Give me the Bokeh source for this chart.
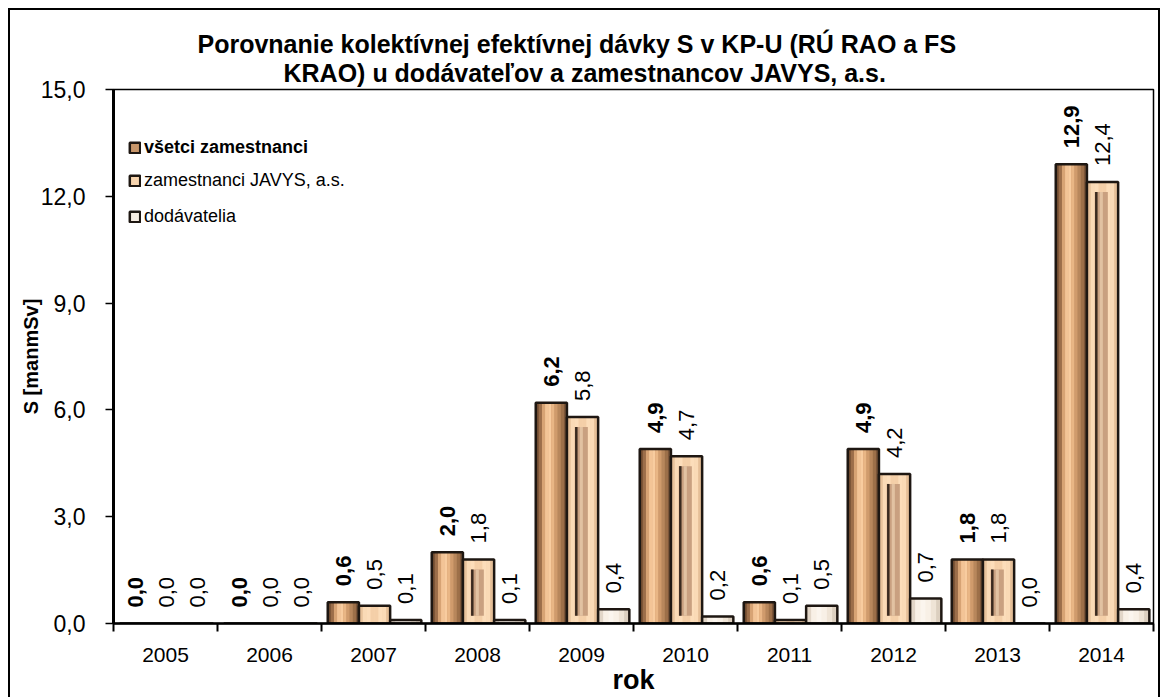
import numpy as np
from bokeh.plotting import figure
from bokeh.models import (ColumnDataSource, Range1d, FixedTicker, CustomJSTickFormatter,
                          Legend, LegendItem, Title)
from bokeh.core.properties import value
from bokeh.embed import file_html
from bokeh.resources import INLINE

# ---------------- data ----------------
years = ["2005", "2006", "2007", "2008", "2009", "2010", "2011", "2012", "2013", "2014"]
vsetci = [0.0, 0.0, 0.6, 2.0, 6.2, 4.9, 0.6, 4.9, 1.8, 12.9]
javys = [0.0, 0.0, 0.5, 1.8, 5.8, 4.7, 0.1, 4.2, 1.8, 12.4]
dodav = [0.0, 0.0, 0.1, 0.1, 0.4, 0.2, 0.5, 0.7, 0.0, 0.4]
series_names = ["všetci zamestnanci", "zamestnanci JAVYS, a.s.", "dodávatelia"]
title_lines = ["Porovnanie kolektívnej  efektívnej  dávky  S v KP-U  (RÚ RAO a FS",
               "KRAO) u dodávateľov  a zamestnancov  JAVYS, a.s."]
y_ticks = [0, 3, 6, 9, 12, 15]
x_title = "rok"
y_title = "S [manmSv]"

FONT = "Liberation Sans"

p = figure(frame_width=1040, frame_height=534,
           x_range=Range1d(0, len(years)), y_range=Range1d(0, 15),
           output_backend="svg", toolbar_location=None,
           min_border_left=103, min_border_right=5, min_border_top=79, min_border_bottom=30)
p.styles = {"margin-left": "8px", "margin-top": "8px",
            "border-top": "2px solid black", "border-left": "2px solid black",
            "border-right": "2px solid black"}
p.background_fill_color = "white"
p.border_fill_color = "white"
p.outline_line_color = "black"
p.outline_line_width = 1.5
p.xgrid.visible = False
p.ygrid.visible = False

# title: two lines (second line added first = closer to the frame), left-aligned with offsets
t2 = Title(text=title_lines[1], align="left", offset=170, standoff=5,
           text_font=FONT, text_font_size="25px", text_font_style="bold", text_color="black")
t1 = Title(text=title_lines[0], align="left", offset=84, standoff=-6,
           text_font=FONT, text_font_size="25px", text_font_style="bold", text_color="black")
p.add_layout(t2, "above")
p.add_layout(t1, "above")

# ---------------- axes ----------------
n = len(years)
xa = p.xaxis[0]
xa.ticker = FixedTicker(ticks=[i + 0.5 for i in range(n)], minor_ticks=list(range(n + 1)))
xa.formatter = CustomJSTickFormatter(args=dict(years=years),
                                     code="return years[Math.floor(tick)];")
xa.major_tick_out = 0
xa.major_tick_in = 0
xa.minor_tick_out = 8
xa.minor_tick_in = 0
xa.minor_tick_line_width = 2
xa.minor_tick_line_color = "black"
xa.axis_line_width = 2.5
xa.axis_line_color = "black"
xa.major_label_text_font = FONT
xa.major_label_text_font_size = "21px"
xa.major_label_text_color = "black"
xa.major_label_standoff = 16
xa.axis_label = x_title
xa.axis_label_text_font = FONT
xa.axis_label_text_font_size = "27px"
xa.axis_label_text_font_style = "bold"
xa.axis_label_text_color = "black"
xa.axis_label_standoff = 0

ya = p.yaxis[0]
ya.ticker = FixedTicker(ticks=y_ticks, minor_ticks=[])
ya.formatter = CustomJSTickFormatter(code="return tick.toFixed(1).replace('.', ',');")
ya.major_tick_out = 8
ya.major_tick_in = 0
ya.major_tick_line_width = 1.5
ya.major_tick_line_color = "black"
ya.minor_tick_out = 0
ya.minor_tick_in = 0
ya.axis_line_width = 3
ya.axis_line_color = "black"
ya.major_label_text_font = FONT
ya.major_label_text_font_size = "23px"
ya.major_label_text_color = "black"
ya.major_label_standoff = 20
ya.axis_label = y_title
ya.axis_label_text_font = FONT
ya.axis_label_text_font_size = "20px"
ya.axis_label_text_font_style = "bold"
ya.axis_label_text_color = "black"
ya.axis_label_standoff = -4

# ---------------- bars ----------------
bw = 0.30
xc = np.arange(n) + 0.51
x_all = xc - bw
x_jav = xc
x_dod = xc + bw
v_all = np.array(vsetci)
v_jav = np.array(javys)
v_dod = np.array(dodav)


def strips(xs, vals, colors):
    k = len(colors)
    sw = bw / k
    xx, tt, cc = [], [], []
    for j, c in enumerate(colors):
        off = -bw / 2 + sw * (j + 0.5)
        xx.extend(list(xs + off))
        tt.extend(list(vals))
        cc.extend([c] * len(xs))
    return ColumnDataSource(dict(x=xx, top=tt, color=cc)), sw


# všetci zamestnanci: copper gradient
base_all = p.vbar(x=x_all, top=v_all, width=bw, fill_color="#C8966A", line_color=None)
src, sw = strips(x_all, v_all, ["#6E4A2F", "#9C6E4A", "#D7A374", "#F3C496", "#F8CC9F",
                                "#E9B685", "#D09B6C", "#B8875C", "#9D7049", "#7C5639"])
p.vbar(x="x", top="top", width=sw * 1.02, fill_color="color", line_color=None, source=src)
out_all = p.vbar(x=x_all, top=v_all, width=bw, fill_alpha=0, line_color="#1E1712", line_width=2.5)

# zamestnanci JAVYS: light peach with inner panel
base_jav = p.vbar(x=x_jav, top=v_jav, width=bw, fill_color="#F7D4AE", line_color=None)
src, sw = strips(x_jav, v_jav, ["#E8C29B", "#FADAB6", "#FCDDBA", "#F4CFA8", "#F4CFA8",
                                "#FCDDBA", "#FADAB6", "#E5BF98"])
p.vbar(x="x", top="top", width=sw * 1.02, fill_color="color", line_color=None, source=src)
inner_top = np.where(v_jav > 0.7, v_jav - 0.28, 0.0)
inner_bot = np.where(v_jav > 0.7, 0.22, 0.0)
p.vbar(x=x_jav - bw * 0.04, top=inner_top, bottom=inner_bot, width=bw * 0.42,
       fill_color="#C9A080", line_color=None)
p.vbar(x=x_jav - bw * 0.20, top=inner_top, bottom=inner_bot, width=bw * 0.08,
       fill_color="#3A2A1F", line_color=None)
p.vbar(x=x_jav - bw * 0.04, top=inner_top, bottom=inner_bot, width=bw * 0.10,
       fill_color="#E2C2A2", line_color=None)
out_jav = p.vbar(x=x_jav, top=v_jav, width=bw, fill_alpha=0, line_color="#1E1712", line_width=2.5)

# dodávatelia: cream
base_dod = p.vbar(x=x_dod, top=v_dod, width=bw, fill_color="#F6EDE2", line_color=None)
src, sw = strips(x_dod, v_dod, ["#E2D6C8", "#F8F0E6", "#FBF5EE", "#F8F0E6", "#EFE4D6", "#DCCFBF"])
p.vbar(x="x", top="top", width=sw * 1.02, fill_color="color", line_color=None, source=src)
out_dod = p.vbar(x=x_dod, top=v_dod, width=bw, fill_alpha=0, line_color="#1E1712", line_width=2.5)

# ---------------- value labels ----------------
def fmt(vals):
    return [f"{v:.1f}".replace(".", ",") for v in vals]


for xs, vals, style in [(x_all, v_all, "bold"), (x_jav, v_jav, "normal"), (x_dod, v_dod, "normal")]:
    s = ColumnDataSource(dict(x=xs, y=vals, t=fmt(vals)))
    p.text(x="x", y="y", text="t", source=s, angle=np.pi / 2,
           text_align="left", text_baseline="middle", y_offset=-16,
           text_font=value(FONT), text_font_size="22px", text_font_style=style,
           text_color="black")

# ---------------- legends ----------------
common = dict(padding=0, margin=0, border_line_alpha=0, background_fill_alpha=0,
              glyph_width=13, glyph_height=13, label_standoff=3, label_height=20,
              label_text_font=FONT, label_text_font_size="18px", label_text_color="black")
leg1 = Legend(items=[LegendItem(label=series_names[0], renderers=[base_all, out_all])],
              location=(15, 465), label_text_font_style="bold", **common)
leg2 = Legend(items=[LegendItem(label=series_names[1], renderers=[base_jav, out_jav]),
                     LegendItem(label=series_names[2], renderers=[base_dod, out_dod])],
              location=(15, 396), spacing=15, **common)
p.add_layout(leg1, "center")
p.add_layout(leg2, "center")

open("out.html", "w").write(file_html(p, INLINE))
